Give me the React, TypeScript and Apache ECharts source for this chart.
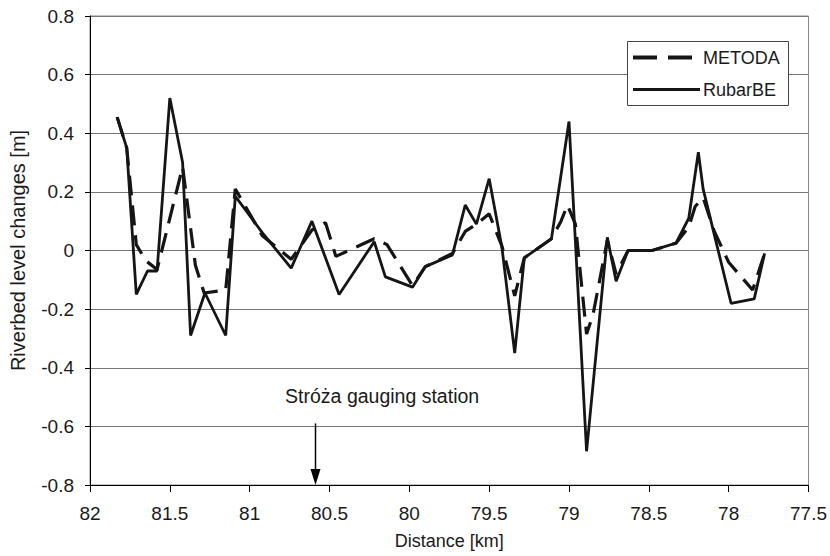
import React, { useEffect, useRef } from "react";
import * as echarts from "echarts";

// Distance [km] and riverbed level changes [m]
const rubarKm = [81.83, 81.77, 81.71, 81.64, 81.58, 81.5, 81.42, 81.37, 81.28, 81.15, 81.09, 80.92, 80.74, 80.61, 80.44, 80.22, 80.15, 79.98, 79.9, 79.73, 79.65, 79.58, 79.5, 79.42, 79.34, 79.28, 79.11, 79.0, 78.89, 78.76, 78.705, 78.63, 78.48, 78.33, 78.25, 78.19, 78.16, 77.985, 77.84, 77.775];
const rubarVal = [0.455, 0.35, -0.15, -0.07, -0.07, 0.52, 0.3, -0.29, -0.145, -0.29, 0.185, 0.06, -0.06, 0.1, -0.15, 0.03, -0.09, -0.125, -0.055, -0.015, 0.155, 0.09, 0.245, 0.01, -0.35, -0.025, 0.04, 0.44, -0.685, 0.045, -0.105, 0.0, 0.0, 0.025, 0.11, 0.335, 0.21, -0.18, -0.165, -0.01];

const metodaKm = [81.83, 81.77, 81.71, 81.65, 81.58, 81.42, 81.34, 81.285, 81.15, 81.09, 80.92, 80.74, 80.61, 80.525, 80.46, 80.22, 80.14, 79.98, 79.9, 79.73, 79.65, 79.58, 79.5, 79.42, 79.34, 79.28, 79.11, 79.05, 79.01, 78.96, 78.89, 78.85, 78.76, 78.705, 78.63, 78.48, 78.33, 78.25, 78.21, 78.16, 78.09, 78.0, 77.85, 77.775];
const metodaVal = [0.455, 0.35, 0.02, -0.035, -0.065, 0.285, -0.05, -0.145, -0.135, 0.21, 0.05, -0.03, 0.07, 0.095, -0.02, 0.04, 0.02, -0.12, -0.055, -0.01, 0.065, 0.09, 0.125, 0.015, -0.155, -0.025, 0.04, 0.1, 0.155, 0.09, -0.285, -0.22, 0.035, -0.08, 0.0, 0.0, 0.025, 0.08, 0.15, 0.18, 0.065, -0.04, -0.135, -0.01];

const seriesNames = ["METODA", "RubarBE"];
const stationKm = 80.59;
const stationLabel = "Stróża gauging station";

const FONT = "'Liberation Sans', Arial, sans-serif";
const TXT = "#1a1a1a";

export default function App() {
  const ref = useRef<HTMLDivElement>(null);
  useEffect(() => {
    document.body.style.margin = "0";
    const chart = echarts.init(ref.current!, undefined, { renderer: "svg" });
    const pairs = (xs: number[], ys: number[]) => xs.map((x, i) => [x, ys[i]]);
    chart.setOption({
      animation: false,
      grid: {
        left: 90,
        right: 20,
        top: 16,
        bottom: 71,
        show: true,
        borderColor: "#888",
        borderWidth: 1,
        backgroundColor: "transparent",
      },
      xAxis: {
        type: "value",
        min: 77.5,
        max: 82,
        interval: 0.5,
        inverse: true,
        name: "Distance [km]",
        nameLocation: "middle",
        nameGap: 47,
        nameTextStyle: { fontFamily: FONT, fontSize: 18, color: TXT },
        axisLine: { show: true, onZero: false, lineStyle: { color: "#000", width: 1 } },
        axisTick: { show: true, length: 7, lineStyle: { color: "#000" } },
        axisLabel: {
          fontFamily: FONT,
          fontSize: 19,
          color: TXT,
          margin: 19,
          formatter: (v: number) => String(Number(v.toFixed(1))),
        },
        splitLine: { show: false },
      },
      yAxis: {
        type: "value",
        min: -0.8,
        max: 0.8,
        interval: 0.2,
        name: "Riverbed level changes [m]",
        nameLocation: "middle",
        nameGap: 62,
        nameTextStyle: { fontFamily: FONT, fontSize: 20, color: TXT },
        axisLine: { show: true, onZero: false, lineStyle: { color: "#000", width: 1 } },
        axisTick: { show: true, length: 5, lineStyle: { color: "#000" } },
        axisLabel: {
          fontFamily: FONT,
          fontSize: 19,
          color: TXT,
          margin: 16,
          formatter: (v: number) => String(Number(v.toFixed(1))),
        },
        splitLine: { show: true, lineStyle: { color: "#777", width: 1 } },
      },
      series: [
        {
          name: seriesNames[0],
          type: "line",
          symbol: "none",
          data: pairs(metodaKm, metodaVal),
          lineStyle: { color: "#151515", width: 3.2, type: [20, 10] },
          z: 3,
        },
        {
          name: seriesNames[1],
          type: "line",
          symbol: "none",
          data: pairs(rubarKm, rubarVal),
          lineStyle: { color: "#151515", width: 2.8, type: "solid" },
          z: 4,
        },
      ],
    });

    const top = chart.convertToPixel({ gridIndex: 0 }, [stationKm, -0.59]) as number[];
    const tip = chart.convertToPixel({ gridIndex: 0 }, [stationKm, -0.8]) as number[];
    const txt = chart.convertToPixel({ gridIndex: 0 }, [stationKm, -0.497]) as number[];
    const ax = Math.round(top[0]) + 0.5;

    chart.setOption({
      graphic: [
        {
          type: "text",
          x: txt[0] + 67,
          y: txt[1],
          style: {
            text: stationLabel,
            fontFamily: FONT,
            fontSize: 19.5,
            fill: TXT,
            align: "center",
            verticalAlign: "middle",
          },
        },
        {
          type: "line",
          shape: { x1: ax, y1: top[1], x2: ax, y2: tip[1] - 14 },
          style: { stroke: "#000", lineWidth: 1.5 },
        },
        {
          type: "polygon",
          shape: { points: [[ax - 5, tip[1] - 16], [ax + 5, tip[1] - 16], [ax, tip[1]]] },
          style: { fill: "#000" },
        },
        {
          type: "rect",
          shape: { x: 627.5, y: 41.5, width: 161, height: 64 },
          style: { fill: "#fff", stroke: "#444", lineWidth: 1 },
          z: 10,
        },
        {
          type: "line",
          shape: { x1: 633, y1: 57.5, x2: 693, y2: 57.5 },
          style: { stroke: "#151515", lineWidth: 4, lineDash: [24, 11] },
          z: 11,
        },
        {
          type: "line",
          shape: { x1: 633, y1: 89.5, x2: 700, y2: 89.5 },
          style: { stroke: "#151515", lineWidth: 3 },
          z: 11,
        },
        {
          type: "text",
          x: 703,
          y: 57.5,
          style: { text: seriesNames[0], fontFamily: FONT, fontSize: 18, fill: TXT, verticalAlign: "middle" },
          z: 11,
        },
        {
          type: "text",
          x: 703,
          y: 89.5,
          style: { text: seriesNames[1], fontFamily: FONT, fontSize: 18, fill: TXT, verticalAlign: "middle" },
          z: 11,
        },
      ],
    });

    return () => chart.dispose();
  }, []);
  return <div ref={ref} style={{ width: 830, height: 556 }} />;
}
